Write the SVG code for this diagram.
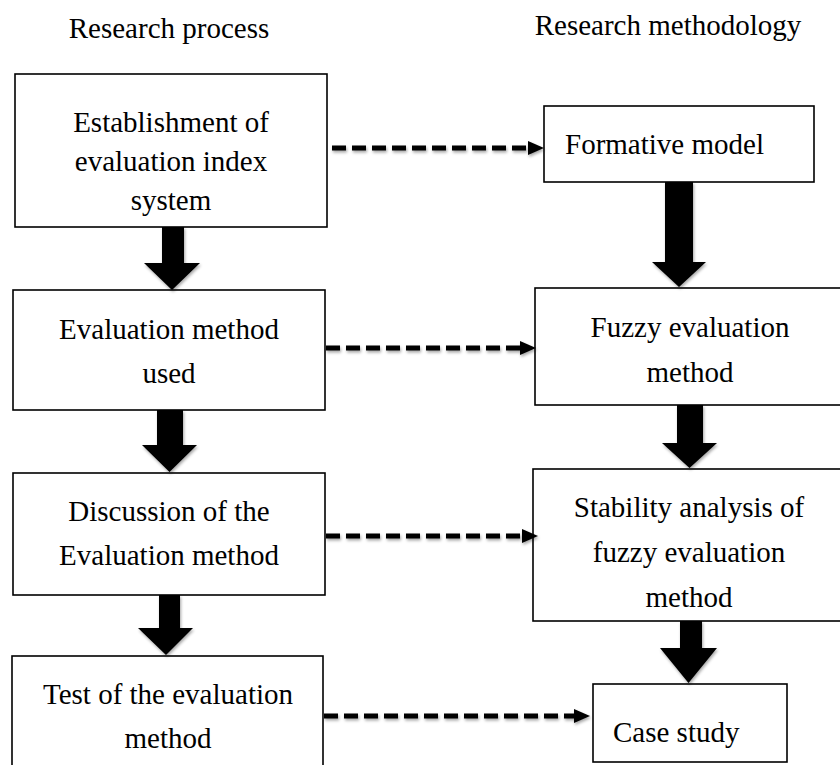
<svg xmlns="http://www.w3.org/2000/svg" width="840" height="765" viewBox="0 0 840 765">
<style>
  .box { fill: #fff; stroke: #000; stroke-width: 1.6; }
  .t { font-family: "Liberation Serif", "Times New Roman", serif; font-size: 29px; fill: #000; }
  .mid { text-anchor: middle; }
  .block { fill: #000; }
  .dash { stroke: #000; stroke-width: 5; stroke-dasharray: 14 6; fill: none; marker-end: url(#ah); }
  .shadowed { filter: url(#sh); }
</style>
<defs>
  <filter id="sh" filterUnits="userSpaceOnUse" x="0" y="0" width="840" height="765">
    <feDropShadow dx="1" dy="2" stdDeviation="1.6" flood-color="#000" flood-opacity="0.35"/>
  </filter>
  <marker id="ah" viewBox="0 0 16 14" refX="4" refY="7" markerWidth="16" markerHeight="14" markerUnits="userSpaceOnUse" orient="auto">
    <path d="M0,0 L16,7 L0,14 z" fill="#000"/>
  </marker>
</defs>
<rect width="840" height="765" fill="#fff"/>

<g id="headers">
  <text class="t mid" x="169" y="38">Research process</text>
  <text class="t mid" x="668" y="35">Research methodology</text>
</g>

<g id="node-establishment">
  <rect class="box" x="15" y="74" width="312" height="153"/>
  <text class="t mid" x="171" y="132">Establishment of</text>
  <text class="t mid" x="171" y="171">evaluation index</text>
  <text class="t mid" x="171" y="210">system</text>
</g>
<g id="node-evaluation-method-used">
  <rect class="box" x="13" y="290" width="312" height="120"/>
  <text class="t mid" x="169" y="339">Evaluation method</text>
  <text class="t mid" x="169" y="383">used</text>
</g>
<g id="node-discussion">
  <rect class="box" x="13" y="473" width="312" height="122"/>
  <text class="t mid" x="169" y="521">Discussion of the</text>
  <text class="t mid" x="169" y="565">Evaluation method</text>
</g>
<g id="node-test">
  <rect class="box" x="12" y="656" width="311" height="120"/>
  <text class="t mid" x="168" y="704">Test of the evaluation</text>
  <text class="t mid" x="168" y="748">method</text>
</g>

<g id="node-formative">
  <rect class="box" x="544" y="106" width="270" height="76"/>
  <text class="t" x="565" y="154">Formative model</text>
</g>
<g id="node-fuzzy">
  <rect class="box" x="535" y="288" width="312" height="117"/>
  <text class="t mid" x="690" y="337">Fuzzy evaluation</text>
  <text class="t mid" x="690" y="382">method</text>
</g>
<g id="node-stability">
  <rect class="box" x="533" y="469" width="314" height="152"/>
  <text class="t mid" x="689" y="517">Stability analysis of</text>
  <text class="t mid" x="689" y="562">fuzzy evaluation</text>
  <text class="t mid" x="689" y="607">method</text>
</g>
<g id="node-case">
  <rect class="box" x="593" y="684" width="194" height="78"/>
  <text class="t" x="613" y="742">Case study</text>
</g>

<g id="connectors" class="shadowed">
  <polygon class="block" points="162,227 184,227 184,263 200,263 172,290 144,263 162,263"/>
  <polygon class="block" points="157,410 183,410 183,445 197,445 169.5,472 142,445 157,445"/>
  <polygon class="block" points="159,595 180,595 180,628 193,628 166,655 138,628 159,628"/>
  <polygon class="block" points="665,182 693,182 693,262 706,262 679,287 652,262 665,262"/>
  <polygon class="block" points="677,405 703,405 703,443 717,443 689.5,468 662,443 677,443"/>
  <polygon class="block" points="680,621 702,621 702,648 717,648 688.5,683 660,648 680,648"/>
  <line class="dash" x1="332" y1="148" x2="532" y2="148"/>
  <line class="dash" x1="326" y1="348" x2="524" y2="348"/>
  <line class="dash" x1="326" y1="536" x2="526" y2="536"/>
  <line class="dash" x1="324" y1="716" x2="578" y2="716"/>
</g>
</svg>
